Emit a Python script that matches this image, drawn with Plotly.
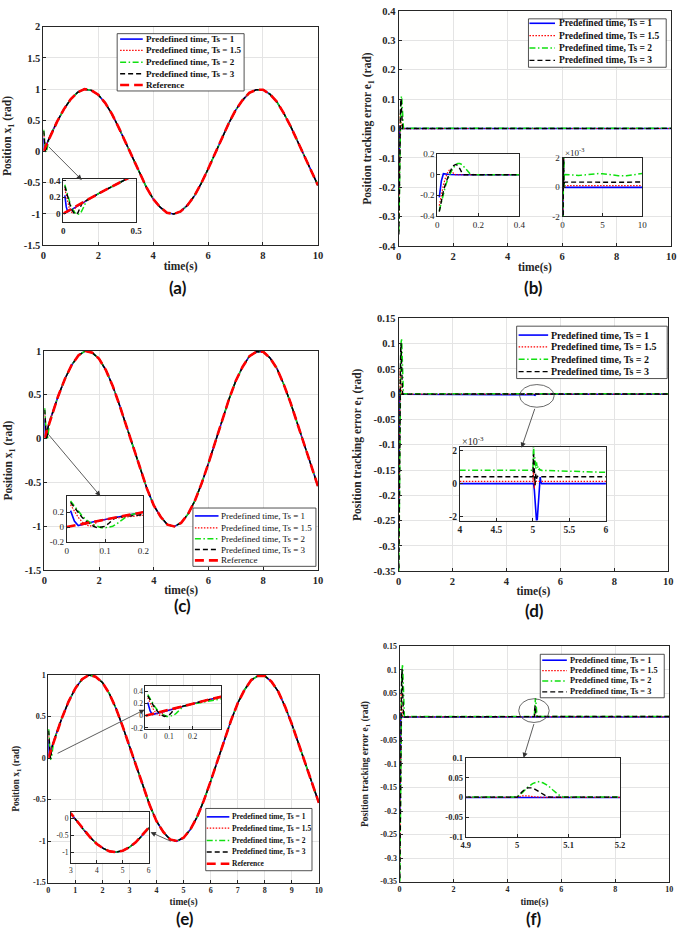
import plotly.graph_objects as go

W, H = 685, 937

# ---------------- data ----------------
t_ref = [0.0, 0.25, 0.5, 0.75, 1.0, 1.25, 1.5, 1.75, 2.0, 2.25, 2.5, 2.75, 3.0, 3.25, 3.5, 3.75,
         4.0, 4.25, 4.5, 4.75, 5.0, 5.25, 5.5, 5.75, 6.0, 6.25, 6.5, 6.75, 7.0, 7.25, 7.5, 7.75,
         8.0, 8.25, 8.5, 8.75, 9.0, 9.25, 9.5, 9.75, 10.0]
x1_ref = [0.00, 0.25, 0.48, 0.68, 0.84, 0.95, 1.00, 0.98, 0.91, 0.78,
          0.60, 0.38, 0.14, -0.11, -0.35, -0.57, -0.76, -0.89, -0.98, -1.00,
          -0.96, -0.86, -0.71, -0.51, -0.28, -0.03, 0.22, 0.45, 0.66, 0.82,
          0.94, 0.99, 0.99, 0.92, 0.80, 0.62, 0.41, 0.17, -0.08, -0.32, -0.54]

# initial transient (0.01 .. 0.20 s)
t_start = [0.01, 0.02, 0.03, 0.04, 0.05, 0.06, 0.07, 0.08, 0.09, 0.10,
           0.11, 0.12, 0.13, 0.14, 0.15, 0.16, 0.18, 0.20]
x1_ts1_start = [0.22, 0.08, 0.02, 0.03, 0.045, 0.058, 0.07, 0.08, 0.09, 0.10,
                0.11, 0.12, 0.13, 0.14, 0.15, 0.16, 0.18, 0.20]
x1_ts15_start = [0.30, 0.21, 0.13, 0.07, 0.03, 0.01, 0.03, 0.07, 0.09, 0.10,
                 0.11, 0.12, 0.13, 0.14, 0.15, 0.16, 0.18, 0.20]
x1_ts2_start = [0.35, 0.28, 0.21, 0.15, 0.10, 0.06, 0.03, 0.01, -0.01, -0.01,
                -0.005, 0.01, 0.04, 0.08, 0.12, 0.155, 0.18, 0.20]
x1_ts3_start = [0.33, 0.26, 0.19, 0.13, 0.08, 0.04, 0.01, -0.01, -0.005, 0.01,
                0.05, 0.10, 0.13, 0.14, 0.15, 0.16, 0.18, 0.20]

e1_ts1_start = [-0.22, -0.06, 0.01, 0.01, 0.005, 0.002, 0.0, 0.0, 0.0, 0.0,
                0.0, 0.0, 0.0, 0.0, 0.0, 0.0, 0.0, 0.0]
e1_ts15_start = [-0.30, -0.19, -0.10, -0.03, 0.02, 0.05, 0.04, 0.01, 0.0, 0.0,
                 0.0, 0.0, 0.0, 0.0, 0.0, 0.0, 0.0, 0.0]
e1_ts2_start = [-0.35, -0.26, -0.18, -0.11, -0.05, 0.0, 0.04, 0.07, 0.10, 0.11,
                0.11, 0.10, 0.08, 0.05, 0.03, 0.01, 0.0, 0.0008]
e1_ts3_start = [-0.36, -0.25, -0.16, -0.09, -0.03, 0.02, 0.06, 0.09, 0.10, 0.09,
                0.06, 0.02, 0.0, 0.0, 0.0, 0.0, 0.0, 0.0003]

# steady state, scenario (b)
t_b = [0.3, 1, 2, 3, 4, 4.5, 5, 6, 7, 8, 9, 10]
e1_ts1_b = [0.0, 0.0, 0.0, 0.0, 0.0, 0.0, 0.0, 0.0, 0.0, 0.0, 0.0, 0.0]
e1_ts15_b = [0.00012, 0.00012, 0.00012, 0.00012, 0.00012, 0.00012,
             0.00012, 0.00012, 0.00012, 0.00012, 0.00012, 0.00012]
e1_ts2_b = [0.00088, 0.00085, 0.00082, 0.00086, 0.00093, 0.00095,
            0.00093, 0.00086, 0.00080, 0.00079, 0.00085, 0.00095]
e1_ts3_b = [0.00036, 0.00036, 0.00035, 0.00036, 0.00037, 0.00037,
            0.00037, 0.00036, 0.00035, 0.00035, 0.00036, 0.00037]

# steady state with disturbance at t = 5 s, scenario (d)
t_d = [0.3, 1, 2, 3, 4, 4.9, 5.0, 5.01, 5.02, 5.03, 5.04, 5.05, 5.06, 5.07,
       5.08, 5.09, 5.10, 5.11, 5.12, 5.14, 5.16, 5.2, 6, 7, 8, 9, 10]
e1_ts1_d = [0.0, 0.0, 0.0, 0.0, 0.0, 0.0, 0.0, 0.0, -0.0004, -0.0010, -0.0017, -0.0023,
            -0.0022, -0.0016, -0.0009, -0.0002, 0.0004, 0.0001, 0.0, 0.0, 0.0, 0.0,
            0.0, 0.0, 0.0, 0.0, 0.0]
e1_ts15_d = [0.00013, 0.00013, 0.00013, 0.00013, 0.00013, 0.00013, 0.00013, 0.0008,
             -0.0003, 0.0002, 0.00013, 0.00013, 0.00013, 0.00013, 0.00013, 0.00013,
             0.00013, 0.00013, 0.00013, 0.00013, 0.00013, 0.00013, 0.00013, 0.00013,
             0.00013, 0.00013, 0.00013]
e1_ts2_d = [0.00084, 0.00084, 0.00083, 0.00083, 0.00083, 0.00082, 0.00082, 0.0023,
            0.0012, 0.0016, 0.0009, 0.0013, 0.00095, 0.00105, 0.00085, 0.0009,
            0.00082, 0.00084, 0.00081, 0.00081, 0.0008, 0.0008, 0.00069, 0.00068,
            0.00068, 0.00068, 0.00068]
e1_ts3_d = [0.00042, 0.00042, 0.00042, 0.00042, 0.00042, 0.00042, 0.00042, 0.0018,
            0.0005, -0.0001, 0.0006, 0.0003, 0.00045, 0.00042, 0.00042, 0.00042,
            0.00042, 0.00042, 0.00042, 0.00042, 0.00042, 0.00042, 0.00042, 0.00042,
            0.00042, 0.00042, 0.00042]

# steady state with larger disturbance at t = 5 s, scenario (f)
t_f = [0.3, 1, 2, 3, 4, 4.9, 5.0, 5.01, 5.02, 5.03, 5.04, 5.05, 5.06, 5.07,
       5.08, 5.09, 5.1, 5.2, 6, 8, 10]
e1_ts1_f = [0.0, 0.0, 0.0, 0.0, 0.0, 0.0, 0.0, 0.0, 0.0, 0.0, 0.0,
            0.0, 0.0, 0.0, 0.0, 0.0, 0.0, 0.0, 0.0, 0.0, 0.0]
e1_ts15_f = [0.0003, 0.0003, 0.0003, 0.0003, 0.0003, 0.0003, 0.0003, 0.004, 0.004, 0.002,
             0.0003, 0.0003, 0.0003, 0.0003, 0.0003, 0.0003, 0.0003, 0.0003, 0.0003, 0.0003, 0.0003]
e1_ts2_f = [0.0012, 0.0012, 0.0012, 0.0012, 0.0012, 0.0012, 0.0012, 0.012, 0.025, 0.035,
            0.040, 0.037, 0.030, 0.018, 0.007, 0.0012, 0.0012, 0.0012, 0.0012, 0.0012, 0.0012]
e1_ts3_f = [0.0008, 0.0008, 0.0008, 0.0008, 0.0008, 0.0008, 0.0008, 0.015, 0.024, 0.024,
            0.017, 0.008, 0.001, 0.0008, 0.0008, 0.0008, 0.0008, 0.0008, 0.0008, 0.0008, 0.0008]

series_labels = ["Predefined time, Ts = 1", "Predefined time, Ts = 1.5",
                 "Predefined time, Ts = 2", "Predefined time, Ts = 3", "Reference"]

# tick values
xt_main = [0, 2, 4, 6, 8, 10]
xt_main_e = [0, 1, 2, 3, 4, 5, 6, 7, 8, 9, 10]
yt_pos_a = [-1.5, -1, -0.5, 0, 0.5, 1, 1.5, 2]
yt_pos_c = [-1.5, -1, -0.5, 0, 0.5, 1]
yt_err_b = [-0.4, -0.3, -0.2, -0.1, 0, 0.1, 0.2, 0.3, 0.4]
yt_err_d = [-0.35, -0.3, -0.25, -0.2, -0.15, -0.1, -0.05, 0, 0.05, 0.1, 0.15]
xt_ins_a = [0, 0.5]
yt_ins_a = [0, 0.2, 0.4]
xt_ins_b1 = [0, 0.2, 0.4]
yt_ins_b1 = [-0.4, -0.2, 0, 0.2]
xt_ins_b2 = [0, 5, 10]
yt_milli = [-0.002, 0, 0.002]
yt_milli_text = ["-2", "0", "2"]
xt_ins_c = [0, 0.1, 0.2]
yt_ins_c = [-0.2, 0, 0.2]
xt_ins_d = [4, 4.5, 5, 5.5, 6]
xt_ins_e1 = [0, 0.1, 0.2]
yt_ins_e1 = [-0.2, 0, 0.2, 0.4]
xt_ins_e2 = [3, 4, 5, 6]
yt_ins_e2 = [-1, -0.5, 0]
xt_ins_f = [4.9, 5, 5.1, 5.2]
yt_ins_f = [-0.1, -0.05, 0, 0.05, 0.1]

# ---------------- styles ----------------
SERIF = "Liberation Serif"
AXC = "#262626"
styles = [
    dict(color="#0000ff", width=1.6, dash="solid"),
    dict(color="#ff0000", width=1.2, dash="1.5px,1.5px"),
    dict(color="#10e010", width=1.5, dash="6px,2.5px,1.5px,2.5px"),
    dict(color="#000000", width=1.4, dash="5px,3px"),
    dict(color="#ff0000", width=2.6, dash="9px,5px"),
]


def px(x):
    return x / W


def py(y):
    return 1 - y / H


def fmt(v):
    return "{:g}".format(v)


fig = go.Figure()
layout = dict(width=W, height=H, margin=dict(l=0, r=0, t=0, b=0),
              paper_bgcolor="white", plot_bgcolor="#fffffe", showlegend=False,
              shapes=[], annotations=[])


def add_axes(n, xpx, ypx, xr, yr, xtv, ytv, fsize, bold, ytt=None,
             xtitle=None, ytitle=None, tsize=11.5, xstand=2, ystand=9):
    weight = "bold" if bold else "normal"
    tf = dict(family=SERIF, size=fsize, color=AXC, weight=weight)
    common = dict(showline=True, mirror=True, linecolor=AXC, linewidth=1,
                  ticks="inside", ticklen=3, tickcolor=AXC, tickwidth=1,
                  showgrid=True, gridcolor="#e4e4e4", gridwidth=1, zeroline=False,
                  tickfont=tf, fixedrange=True, tickmode="array")
    sx = "" if n == 1 else str(n)
    xa = dict(common, domain=[px(xpx[0]), px(xpx[1])], range=xr, anchor="y" + sx,
              tickvals=xtv, ticktext=[fmt(v) for v in xtv])
    ya = dict(common, domain=[py(ypx[1]), py(ypx[0])], range=yr, anchor="x" + sx,
              tickvals=ytv, ticktext=ytt if ytt else [fmt(v) for v in ytv])
    if xtitle:
        xa["title"] = dict(text=xtitle, standoff=xstand,
                           font=dict(family=SERIF, size=tsize, color=AXC, weight="bold"))
    if ytitle:
        ya["title"] = dict(text=ytitle, standoff=ystand,
                           font=dict(family=SERIF, size=tsize, color=AXC, weight="bold"))
    layout["xaxis" + sx] = xa
    layout["yaxis" + sx] = ya
    return "x" + sx, "y" + sx


def add_lines(xref, yref, series):
    for (xs, ys), st in zip(series, styles):
        fig.add_trace(go.Scatter(x=xs, y=ys, xaxis=xref, yaxis=yref, mode="lines",
                                 line=st, hoverinfo="skip", showlegend=False))


pos_series = [
    (t_start + t_ref[1:], x1_ts1_start + x1_ref[1:]),
    (t_start + t_ref[1:], x1_ts15_start + x1_ref[1:]),
    (t_start + t_ref[1:], x1_ts2_start + x1_ref[1:]),
    (t_start + t_ref[1:], x1_ts3_start + x1_ref[1:]),
    (t_ref, x1_ref),
]
err_b = [(t_start + t_b, e1_ts1_start + e1_ts1_b), (t_start + t_b, e1_ts15_start + e1_ts15_b),
         (t_start + t_b, e1_ts2_start + e1_ts2_b), (t_start + t_b, e1_ts3_start + e1_ts3_b)]
err_d = [(t_start + t_d, e1_ts1_start + e1_ts1_d), (t_start + t_d, e1_ts15_start + e1_ts15_d),
         (t_start + t_d, e1_ts2_start + e1_ts2_d), (t_start + t_d, e1_ts3_start + e1_ts3_d)]
err_f = [(t_start + t_f, e1_ts1_start + e1_ts1_f), (t_start + t_f, e1_ts15_start + e1_ts15_f),
         (t_start + t_f, e1_ts2_start + e1_ts2_f), (t_start + t_f, e1_ts3_start + e1_ts3_f)]

YT_POS = "Position x<sub>1</sub> (rad)"
YT_ERR = "Position tracking error e<sub>1</sub> (rad)"

# (a)
r = add_axes(1, (39, 318), (22, 243), [0, 10], [-1.5, 2], xt_main, yt_pos_a, 10.5, True,
             xtitle="time(s)", ytitle=YT_POS)
add_lines(*r, pos_series)
r = add_axes(2, (59.3, 133.3), (176, 220), [0, 0.5], [-0.108, 0.42], xt_ins_a, yt_ins_a, 9, True)
add_lines(*r, pos_series)
# (b)
r = add_axes(3, (400, 677), (6, 244), [0, 10], [-0.4, 0.4], xt_main, yt_err_b, 10.5, True,
             xtitle="time(s)", ytitle=YT_ERR, ystand=4)
add_lines(*r, err_b)
r = add_axes(4, (439.3, 522.7), (151, 213.3), [0, 0.4], [-0.4, 0.2], xt_ins_b1, yt_ins_b1, 9, False)
add_lines(*r, err_b)
r = add_axes(5, (566.7, 647.7), (155, 214), [0, 10], [-0.002, 0.002], xt_ins_b2, yt_milli, 9, False,
             ytt=yt_milli_text)
add_lines(*r, err_b)
# (c)
r = add_axes(6, (40, 318), (350, 572), [0, 10], [-1.5, 1], xt_main, yt_pos_c, 10.5, True,
             xtitle="time(s)", ytitle=YT_POS, xstand=1)
add_lines(*r, pos_series)
r = add_axes(7, (62.7, 140.7), (497.3, 543.3), [0, 0.2], [-0.2, 0.41], xt_ins_c, yt_ins_c, 9, False)
add_lines(*r, pos_series)
# (d)
r = add_axes(8, (400, 674), (317, 573), [0, 10], [-0.35, 0.15], xt_main, yt_err_d, 10.5, True,
             xtitle="time(s)", ytitle=YT_ERR, xstand=1)
add_lines(*r, err_d)
r = add_axes(9, (462.3, 610.7), (447, 521.7), [4, 6], [-0.00227, 0.00226], xt_ins_d, yt_milli, 9.5, True,
             ytt=yt_milli_text)
add_lines(*r, err_d)
# (e)
r = add_axes(10, (44, 319), (678, 888), [0, 10], [-1.5, 1], xt_main_e, yt_pos_c, 8, True,
             xtitle="time(s)", ytitle=YT_POS, tsize=9.5, xstand=4, ystand=11)
add_lines(*r, pos_series)
r = add_axes(11, (142.7, 220), (689.3, 732.7), [0, 0.322], [-0.22, 0.49], xt_ins_e1, yt_ins_e1, 7.5, False)
add_lines(*r, pos_series)
r = add_axes(12, (67, 146), (817, 868), [3, 6], [-1.317, 0.173], xt_ins_e2, yt_ins_e2, 7.5, False)
add_lines(*r, pos_series)
# (f)
r = add_axes(13, (401, 675), (649, 887), [0, 10], [-0.35, 0.15], xt_main, yt_err_d, 8, True,
             xtitle="time(s)", ytitle=YT_ERR, tsize=9.5, xstand=5, ystand=9)
add_lines(*r, err_f)
r = add_axes(14, (468.3, 625), (761.7, 842), [4.9, 5.2], [-0.1, 0.1], xt_ins_f, yt_ins_f, 8.5, True)
add_lines(*r, err_f)

# ---------------- zoom marks ----------------
ann = layout["annotations"]
shp = layout["shapes"]


def arrow(xr, yr, head, tail):
    ann.append(dict(xref=xr, yref=yr, axref=xr, ayref=yr, x=head[0], y=head[1],
                    ax=tail[0], ay=tail[1], text="", showarrow=True, arrowhead=2,
                    arrowsize=1.3, arrowwidth=0.8, arrowcolor="#333333", standoff=0))


arrow("x", "y", (1.40, -0.455), (0.14, 0.10))
arrow("x6", "y6", (2.05, -0.655), (0.07, 0.077))
arrow("x8", "y8", (4.56, -0.106), (5.07, -0.026))
arrow("x10", "y10", (3.56, 0.583), (0.29, 0.048))
arrow("x10", "y10", (3.78, -0.893), (4.58, -1.01))
arrow("x13", "y13", (4.60, -0.087), (5.00, -0.012))

shp.append(dict(type="circle", xref="x8", yref="y8", x0=4.49, x1=5.77, y0=-0.0258, y1=0.019,
                line=dict(color="#444444", width=0.8)))
shp.append(dict(type="circle", xref="x13", yref="y13", x0=4.42, x1=5.55, y0=-0.0118, y1=0.0387,
                line=dict(color="#444444", width=0.8)))

for (xx, yy, sz) in [(567, 149, 9), (462, 441, 10)]:
    ann.append(dict(xref="paper", yref="paper", x=px(xx), y=py(yy), xanchor="left", yanchor="middle",
                    text="\u00d710<sup>-3</sup>", showarrow=False,
                    font=dict(family=SERIF, size=sz, color=AXC)))

# ---------------- legends ----------------
legends = [
    dict(box=(114, 29, 243, 87), rows=[34.5, 46, 58, 69.5, 81], line=(117, 140), tx=141, size=9, bold=True, n=5),
    dict(box=(532, 14, 672, 63), rows=[18.5, 31, 43.5, 56], line=(533, 559), tx=561, size=9.5, bold=True, n=4),
    dict(box=(191, 509, 316, 568), rows=[517, 529, 540, 551, 562], line=(193, 217), tx=218, size=9, bold=False, n=5),
    dict(box=(520, 325, 673, 378), rows=[334, 346, 358.5, 371], line=(522, 552), tx=553, size=10, bold=True, n=4),
    dict(box=(204, 813, 312, 876), rows=[821.5, 833, 845.5, 857, 869], line=(205, 228), tx=229, size=7.5, bold=True, n=5),
    dict(box=(544, 657, 670, 701), rows=[663, 673.5, 684, 695], line=(546, 571), tx=572, size=8.3, bold=True, n=4),
]
for lg in legends:
    x0, y0, x1, y1 = lg["box"]
    shp.append(dict(type="rect", xref="paper", yref="paper", x0=px(x0), x1=px(x1), y0=py(y1), y1=py(y0),
                    line=dict(color=AXC, width=0.8), fillcolor="white"))
    for i in range(lg["n"]):
        yc = py(lg["rows"][i])
        shp.append(dict(type="line", xref="paper", yref="paper", x0=px(lg["line"][0]), x1=px(lg["line"][1]),
                        y0=yc, y1=yc, line=styles[i]))
        ann.append(dict(xref="paper", yref="paper", x=px(lg["tx"]), y=yc, xanchor="left", yanchor="middle",
                        text=series_labels[i], showarrow=False,
                        font=dict(family=SERIF, size=lg["size"], color="#111111",
                                  weight="bold" if lg["bold"] else "normal")))

# ---------------- panel labels ----------------
for lab, xx, yy in [("(a)", 176, 286), ("(b)", 537, 286), ("(c)", 180, 608),
                    ("(d)", 538, 613), ("(e)", 183, 924), ("(f)", 538, 924)]:
    ann.append(dict(xref="paper", yref="paper", x=px(xx), y=py(yy), xanchor="center", yanchor="middle",
                    text=lab, showarrow=False, font=dict(family="Lato", size=17, color="#111111", weight="bold")))

fig.update_layout(**layout)
fig.write_html("out.html", config={"displayModeBar": False},
               post_script="document.body.style.margin='0';")
